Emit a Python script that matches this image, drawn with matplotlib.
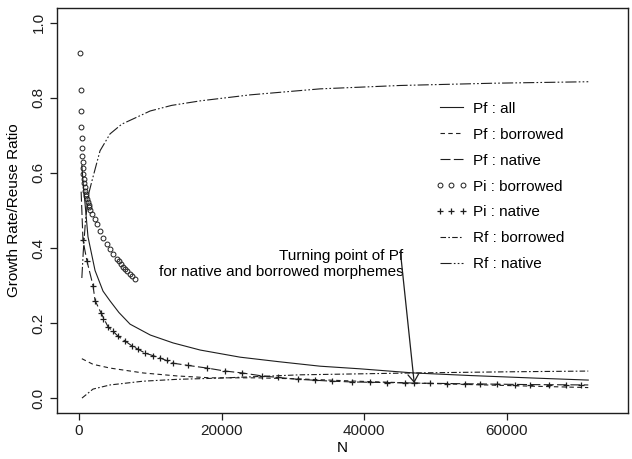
import matplotlib
matplotlib.use("Agg")
import matplotlib.pyplot as plt

plt.rcParams['font.family'] = ['Liberation Sans', 'DejaVu Sans']
plt.rcParams['font.size'] = 11

# Pf : all (solid)
pf_all_n = [400, 600, 840, 1260, 2250, 3370, 4350, 5600, 7160, 10000, 13190, 17000,
            22600, 28000, 33800, 39400, 46900, 55000, 64300, 71400]
pf_all_v = [0.62, 0.57, 0.52, 0.43, 0.34, 0.285, 0.259, 0.228, 0.197, 0.168, 0.147, 0.128,
            0.109, 0.097, 0.085, 0.078, 0.067, 0.060, 0.053, 0.048]

# Pf : borrowed (short dashes)
pf_bor_n = [400, 1965, 4350, 8980, 13750, 18400, 25000, 31000, 39000, 47000, 55000, 63000, 71400]
pf_bor_v = [0.105, 0.090, 0.080, 0.067, 0.059, 0.054, 0.054, 0.051, 0.045, 0.040, 0.036, 0.032, 0.028]

# Pf : native (long dashes)
pf_nat_n = [300, 560, 1120, 1965, 2250, 3090, 4070, 4770, 5470, 6460, 7440, 9260, 11370,
            13190, 15300, 17960, 20490, 22880, 25680, 30740, 35510, 38320, 47000, 55000, 63000, 71400]
pf_nat_v = [0.55, 0.42, 0.365, 0.30, 0.26, 0.227, 0.19, 0.178, 0.165, 0.152, 0.139, 0.12, 0.107,
            0.093, 0.087, 0.080, 0.072, 0.067, 0.059, 0.050, 0.045, 0.043, 0.040, 0.038, 0.036, 0.035]

# Pi : borrowed (circles)
pi_bor_n = [150, 220, 260, 320, 380, 430, 480, 530, 580, 620, 680, 720, 780, 850, 950, 1050,
            1150, 1250, 1350, 1450, 1600, 1820, 2200, 2530, 2950, 3370, 3930, 4350, 4770, 5330,
            5600, 5890, 6150, 6460, 6800, 7160, 7500, 7860]
pi_bor_v = [0.92, 0.82, 0.765, 0.723, 0.693, 0.667, 0.645, 0.628, 0.612, 0.598, 0.585, 0.572,
            0.562, 0.552, 0.545, 0.538, 0.53, 0.522, 0.515, 0.508, 0.50, 0.49, 0.476, 0.464,
            0.445, 0.427, 0.41, 0.397, 0.384, 0.37, 0.364, 0.357, 0.35, 0.344, 0.338, 0.331,
            0.324, 0.317]

# Pi : native (plus)
pi_nat_n = [560, 1120, 1965, 2250, 3090, 3370, 4070, 4770, 5470, 6460, 7440, 8280, 9260, 10390,
            11370, 12350, 13190, 15300, 17970, 20490, 22880, 25680, 27930, 30740, 33120, 35510,
            38320, 40840, 43230, 45750, 47020, 49260, 51650, 54180, 56280, 58670, 61190, 63300,
            65830, 68210, 70320]
pi_nat_v = [0.42, 0.365, 0.30, 0.26, 0.227, 0.21, 0.19, 0.178, 0.165, 0.152, 0.139, 0.131, 0.12,
            0.112, 0.107, 0.101, 0.093, 0.087, 0.080, 0.072, 0.067, 0.059, 0.056, 0.052, 0.048,
            0.045, 0.043, 0.042, 0.041, 0.040, 0.040, 0.039, 0.038, 0.038, 0.037, 0.037, 0.036,
            0.036, 0.035, 0.035, 0.035]

# Rf : borrowed (dash-dot)
rf_bor_n = [420, 1965, 4350, 8980, 13750, 19370, 31000, 47000, 60000, 71400]
rf_bor_v = [0.0, 0.024, 0.035, 0.045, 0.050, 0.053, 0.062, 0.067, 0.070, 0.072]

# Rf : native (long dash-dot)
rf_nat_n = [400, 600, 900, 1300, 1820, 2950, 4350, 6000, 7600, 9970, 13000, 17000, 24000,
            33800, 45000, 58000, 71400]
rf_nat_v = [0.32, 0.39, 0.47, 0.54, 0.579, 0.659, 0.704, 0.73, 0.744, 0.765, 0.78, 0.792,
            0.808, 0.824, 0.833, 0.839, 0.843]

xticks = [0, 20000, 40000, 60000]
yticks = [0.0, 0.2, 0.4, 0.6, 0.8, 1.0]

ink = '#1e1e1e'
lw = 0.8

fig = plt.figure(figsize=(6.32, 4.59), dpi=100)
ax = fig.add_axes([0.090, 0.100, 0.904, 0.883])

ax.plot(pf_all_n, pf_all_v, color=ink, lw=lw, label='Pf : all')
ax.plot(pf_bor_n, pf_bor_v, color=ink, lw=lw, ls=(0, (4, 3)), label='Pf : borrowed')
ax.plot(pf_nat_n, pf_nat_v, color=ink, lw=lw, ls=(0, (9, 3)), label='Pf : native')
ax.plot(pi_bor_n, pi_bor_v, ls='none', marker='o', ms=3.5, mfc='none', mec=ink, mew=0.7,
        label='Pi : borrowed')
ax.plot(pi_nat_n, pi_nat_v, ls='none', marker='+', ms=4.5, mec=ink, mew=0.9,
        label='Pi : native')
ax.plot(rf_bor_n, rf_bor_v, color=ink, lw=lw, ls=(0, (5, 2, 1.5, 2)), label='Rf : borrowed')
ax.plot(rf_nat_n, rf_nat_v, color=ink, lw=lw, ls=(0, (10, 2, 1.5, 2, 1.5, 2)), label='Rf : native')

ax.text(45500, 0.398, 'Turning point of Pf\nfor native and borrowed morphemes',
        ha='right', va='top', multialignment='right', fontsize=11, linespacing=1.25)
ax.annotate('', xy=(47000, 0.04), xytext=(45050, 0.392),
            arrowprops=dict(arrowstyle='->,head_length=0.5,head_width=0.35', color=ink, lw=0.9,
                            shrinkA=0, shrinkB=0))

ax.set_xlim(-3100, 77000)
ax.set_ylim(-0.04, 1.04)
ax.set_xticks(xticks)
ax.set_xticklabels([str(t) for t in xticks])
ax.set_yticks(yticks)
ax.set_yticklabels(['%.1f' % t for t in yticks], rotation=90, va='center')
ax.tick_params(direction='out', length=5, width=0.9, pad=3, labelsize=11, colors=ink)
for s in ax.spines.values():
    s.set_linewidth(1.0)
    s.set_color(ink)

ax.set_xlabel('N', fontsize=11, labelpad=2)
ax.set_ylabel('Growth Rate/Reuse Ratio', fontsize=11, labelpad=8)

ax.legend(loc='upper left', bbox_to_anchor=(0.662, 0.768), frameon=False, borderpad=0,
          borderaxespad=0, handlelength=2.1, handletextpad=0.4, labelspacing=0.78,
          numpoints=3, fontsize=11)

fig.savefig('out.png', dpi=100)
